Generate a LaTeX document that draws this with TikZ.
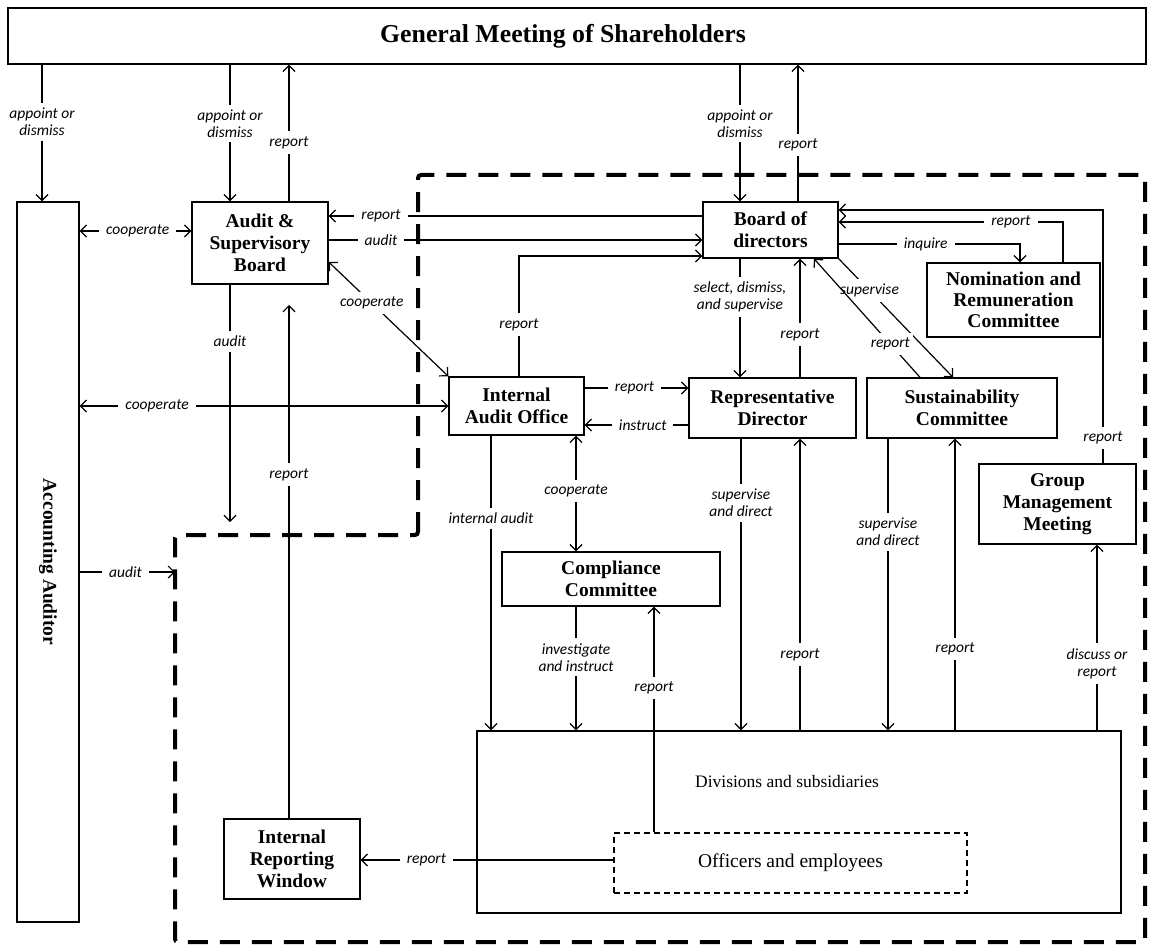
\documentclass[tikz,border=0pt]{standalone}
\usepackage{fontspec}
\setmainfont{Liberation Serif}
\newfontfamily\lblfamily{Carlito}
\usetikzlibrary{arrows.meta}
\begin{document}
\begin{tikzpicture}[x=1pt,y=-1pt,
  box/.style={draw, fill=white, line width=1.4pt, align=center, font=\fontsize{19.5}{22}\selectfont\bfseries, inner sep=0pt},
  conn/.style={line width=1.2pt, -{Straight Barb[length=6pt,width=12pt]}},
  both/.style={line width=1.2pt, {Straight Barb[length=6pt,width=12pt]}-{Straight Barb[length=6pt,width=12pt]}},
  lbl/.style={fill=white, font=\lblfamily\itshape\fontsize{15.5}{17}\selectfont, align=center, inner xsep=7pt, inner ysep=5pt},
  region/.style={line width=4pt, dash pattern=on 20pt off 12pt, rounded corners=3pt}
]
\useasboundingbox[fill=white] (0,0) rectangle (1149,947);

% dashed region
\draw[region] (418,535) -- (418,175) -- (1145,175) -- (1145,942) -- (175,942) -- (175,535) -- cycle;

% nodes
\node[box, minimum width=1138pt, minimum height=56pt, font=\fontsize{25.8}{28}\selectfont\bfseries] (gm) at (577,36) {General Meeting of Shareholders\hspace*{28pt}};
\node[box, minimum width=62pt, minimum height=720pt] (aa) at (48,562) {\rotatebox{-90}{Accounting Auditor}};
\node[box, minimum width=136pt, minimum height=82pt] (asb) at (260,243) {Audit \&\\Supervisory\\Board};
\node[box, minimum width=135pt, minimum height=56pt] (bod) at (770.5,230) {Board of\\directors};
\node[box, minimum width=173pt, minimum height=74pt, font=\fontsize{19.5}{21}\selectfont\bfseries] (nrc) at (1013.5,300) {Nomination and\\Remuneration\\Committee};
\node[box, minimum width=135pt, minimum height=58pt] (iao) at (516.5,406) {Internal\\Audit Office};
\node[box, minimum width=167pt, minimum height=60pt] (rd) at (772.5,408) {Representative\\Director};
\node[box, minimum width=190pt, minimum height=60pt] (sc) at (962,408) {Sustainability\\Committee};
\node[box, minimum width=157pt, minimum height=80pt] (gmm) at (1057.5,504) {Group\\Management\\Meeting};
\node[box, minimum width=218pt, minimum height=54pt] (cc) at (611,579) {Compliance\\Committee};
\node[box, minimum width=644pt, minimum height=182pt, label={[font=\fontsize{17.5}{20}\selectfont, yshift=40pt, xshift=-12pt]center:Divisions and subsidiaries}] (div) at (799,822) {};
\node[box, line width=1.2pt, dash pattern=on 6pt off 4pt, minimum width=353pt, minimum height=60pt, font=\fontsize{19.5}{22}\selectfont] (oe) at (790.5,863) {Officers and employees};
\node[box, minimum width=136pt, minimum height=80pt] (irw) at (292,859) {Internal\\Reporting\\Window};

% free ends
\coordinate (auditend) at (230,522);
\coordinate (irwend) at (289,305);
\coordinate (aaauditend) at (175,572);

% connectors
\draw[conn] (gm.south -| 42,0) -- node[lbl,pos=.42]{appoint or\\dismiss} (aa.north -| 42,0);
\draw[conn] (gm.south -| 230,0) -- node[lbl,pos=.43]{appoint or\\dismiss} (asb.north -| 230,0);
\draw[conn] (asb.north -| 289,0) -- node[lbl,pos=.43]{report} (gm.south -| 289,0);
\draw[both] (aa.east |- 0,231) -- node[lbl,pos=.52]{cooperate} (asb.west |- 0,231);
\draw[conn] (bod.west |- 0,216) -- node[lbl,pos=.86]{report} (asb.east |- 0,216);
\draw[conn] (asb.east |- 0,240) -- node[lbl,pos=.14]{audit} (bod.west |- 0,240);
\draw[conn] (iao.north -| 519,0) |- node[lbl,pos=.215]{report} (bod.west |- 0,256);
\draw[both] (asb.east |- 0,262) -- node[lbl,pos=.36]{cooperate} (iao.north west);
\draw[conn] (asb.south -| 230,0) -- node[lbl,pos=.24]{audit} (auditend);
\draw[conn] (irw.north -| 289,0) -- node[lbl,pos=.67]{report} (irwend);
\draw[both] (aa.east |- 0,406) -- node[lbl,pos=.21]{cooperate} (iao.west |- 0,406);
\draw[conn] (aa.east |- 0,572) -- node[lbl,pos=.48]{audit} (aaauditend);

\draw[conn] (gm.south -| 740,0) -- node[lbl,pos=.43]{appoint or\\dismiss} (bod.north -| 740,0);
\draw[conn] (bod.north -| 798,0) -- node[lbl,pos=.41]{report} (gm.south -| 798,0);
\draw[conn] (bod.south -| 740,0) -- node[lbl,pos=.32]{select, dismiss,\\and supervise} (rd.north -| 740,0);
\draw[conn] (rd.north -| 800,0) -- node[lbl,pos=.36]{report} (bod.south -| 800,0);
\draw[conn] (bod.east |- 0,244) -| node[lbl,pos=.24]{inquire} (nrc.north -| 1020,0);
\draw[conn] (nrc.north -| 1063,0) |- node[lbl,pos=.616]{report} (bod.east |- 0,222);
\draw[conn] (gmm.north -| 1103,0) |- node[lbl,pos=.05]{report} (bod.east |- 0,210);
\draw[conn] (bod.south east) -- node[lbl,pos=.27,inner xsep=3pt]{supervise} (sc.north -| 953,0);
\draw[conn] (sc.north -| 920,0) -- node[lbl,pos=.28,inner xsep=3pt]{report} (bod.south -| 814,0);

\draw[conn] (iao.east |- 0,388) -- node[lbl,pos=.48]{report} (rd.west |- 0,388);
\draw[conn] (rd.west |- 0,425) -- node[lbl,pos=.44]{instruct} (iao.east |- 0,425);
\draw[conn] (iao.south -| 491,0) -- node[lbl,pos=.28]{internal audit} (div.north -| 491,0);
\draw[both] (iao.south -| 576,0) -- node[lbl,pos=.48]{cooperate} (cc.north -| 576,0);
\draw[conn] (cc.south -| 576,0) -- node[lbl,pos=.41]{investigate\\and instruct} (div.north -| 576,0);
\draw[conn] (oe.north -| 654,0) -- node[lbl,pos=.64]{report} (cc.south -| 654,0);
\draw[conn] (rd.south -| 741,0) -- node[lbl,pos=.22]{supervise\\and direct} (div.north -| 741,0);
\draw[conn] (div.north -| 800,0) -- node[lbl,pos=.26]{report} (rd.south -| 800,0);
\draw[conn] (sc.south -| 888,0) -- node[lbl,pos=.32]{supervise\\and direct} (div.north -| 888,0);
\draw[conn] (div.north -| 955,0) -- node[lbl,pos=.28]{report} (sc.south -| 955,0);
\draw[conn] (div.north -| 1097,0) -- node[lbl,pos=.36]{discuss or\\report} (gmm.south -| 1097,0);
\draw[conn] (oe.west |- 0,860) -- node[lbl,pos=.74]{report} (irw.east |- 0,860);
\end{tikzpicture}
\end{document}
